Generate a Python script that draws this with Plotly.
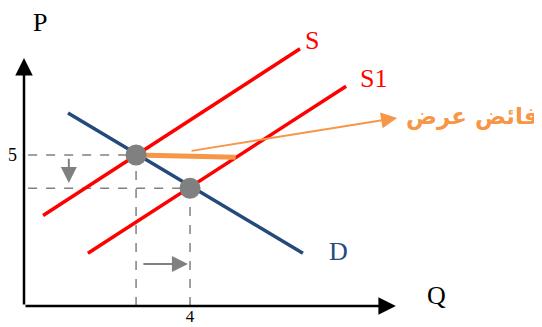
import plotly.graph_objects as go

# --- supply / demand curves (Q, P) ---
q_s = [0.46, 6.65]
p_s = [3.0, 8.52]
q_s1 = [1.54, 7.76]
p_s1 = [1.75, 7.28]
q_d = [1.06, 6.72]
p_d = [6.39, 1.75]

# equilibrium points: before and after the supply shift
eq_q = [2.7, 4.0]
eq_p = [5.0, 3.9]

# surplus segment at the old price
surplus_q = [2.7, 5.1]
surplus_p = [5.0, 4.93]

# axis extents and tick labels
q_max, p_max = 8.96, 8.21
q_ticks, q_ticktext = [4.0], ["4"]
p_ticks, p_ticktext = [5.0], ["5"]

RED = "#FF0000"
BLUE = "#24497B"
GRAY = "#808080"
ORANGE = "#F79646"
SERIF = "Liberation Serif"

fig = go.Figure()

# dashed guide lines
for q, p in zip(eq_q, eq_p):
    fig.add_trace(go.Scatter(x=[0.1, q], y=[p, p], mode="lines",
                             line=dict(color=GRAY, width=1.5, dash="dash"), hoverinfo="skip"))
    fig.add_trace(go.Scatter(x=[q, q], y=[0, p], mode="lines",
                             line=dict(color=GRAY, width=1.5, dash="dash"), hoverinfo="skip"))

fig.add_trace(go.Scatter(x=q_s, y=p_s, mode="lines", line=dict(color=RED, width=3.5), name="S"))
fig.add_trace(go.Scatter(x=q_s1, y=p_s1, mode="lines", line=dict(color=RED, width=3.5), name="S1"))
fig.add_trace(go.Scatter(x=q_d, y=p_d, mode="lines", line=dict(color=BLUE, width=3.5), name="D"))
fig.add_trace(go.Scatter(x=surplus_q, y=surplus_p, mode="lines",
                         line=dict(color=ORANGE, width=5), name="surplus"))
fig.add_trace(go.Scatter(x=eq_q, y=eq_p, mode="markers", cliponaxis=False,
                         marker=dict(color=GRAY, size=21), name="E"))

def arrow(x, y, ax, ay, color, width, size):
    fig.add_annotation(x=x, y=y, ax=ax, ay=ay, xref="x", yref="y", axref="x", ayref="y",
                       text="", showarrow=True, arrowhead=2, arrowsize=size,
                       arrowwidth=width, arrowcolor=color)

# axes with arrowheads
arrow(0, p_max, 0, 0, "black", 2.5, 1.4)
arrow(q_max, 0, 0, 0, "black", 2.5, 1.4)
# price falls, quantity rises
arrow(1.08, 4.07, 1.08, 4.93, GRAY, 2, 1.6)
arrow(3.95, 1.39, 2.84, 1.39, GRAY, 2, 1.6)
# surplus pointer
arrow(8.99, 6.23, 4.0, 5.13, ORANGE, 2, 1.6)

labels = [
    ("P", 0.39, 9.38, "black"),
    ("Q", 9.95, 0.36, "black"),
    ("S", 6.94, 8.81, RED),
    ("S1", 8.41, 7.55, RED),
    ("D", 7.57, 1.79, BLUE),
]
for txt, x, y, c in labels:
    fig.add_annotation(x=x, y=y, text=txt, showarrow=False,
                       font=dict(family=SERIF, size=26, color=c))

fig.add_annotation(x=10.8, y=6.26, text="<b>فائض عرض</b>", showarrow=False,
                   font=dict(family="DejaVu Sans", size=23, color=ORANGE))

# the page body adds an 8px margin, so the figure is 8px smaller than the window
fig.update_layout(
    width=534, height=319, autosize=False,
    margin=dict(l=16, r=0, t=0, b=21),
    plot_bgcolor="white", paper_bgcolor="white",
    showlegend=False,
    xaxis=dict(range=[0, 12.48], showgrid=False, zeroline=False, showline=False,
               automargin=False, tickvals=q_ticks, ticktext=q_ticktext, ticks="",
               ticklabelstandoff=-2,
               tickfont=dict(family=SERIF, size=17, color="black")),
    yaxis=dict(range=[0, 9.87], showgrid=False, zeroline=False, showline=False,
               automargin=False, tickvals=p_ticks, ticktext=p_ticktext, ticks="",
               ticklabelstandoff=6,
               tickfont=dict(family=SERIF, size=18, color="black")),
)

fig.write_html("out.html")
